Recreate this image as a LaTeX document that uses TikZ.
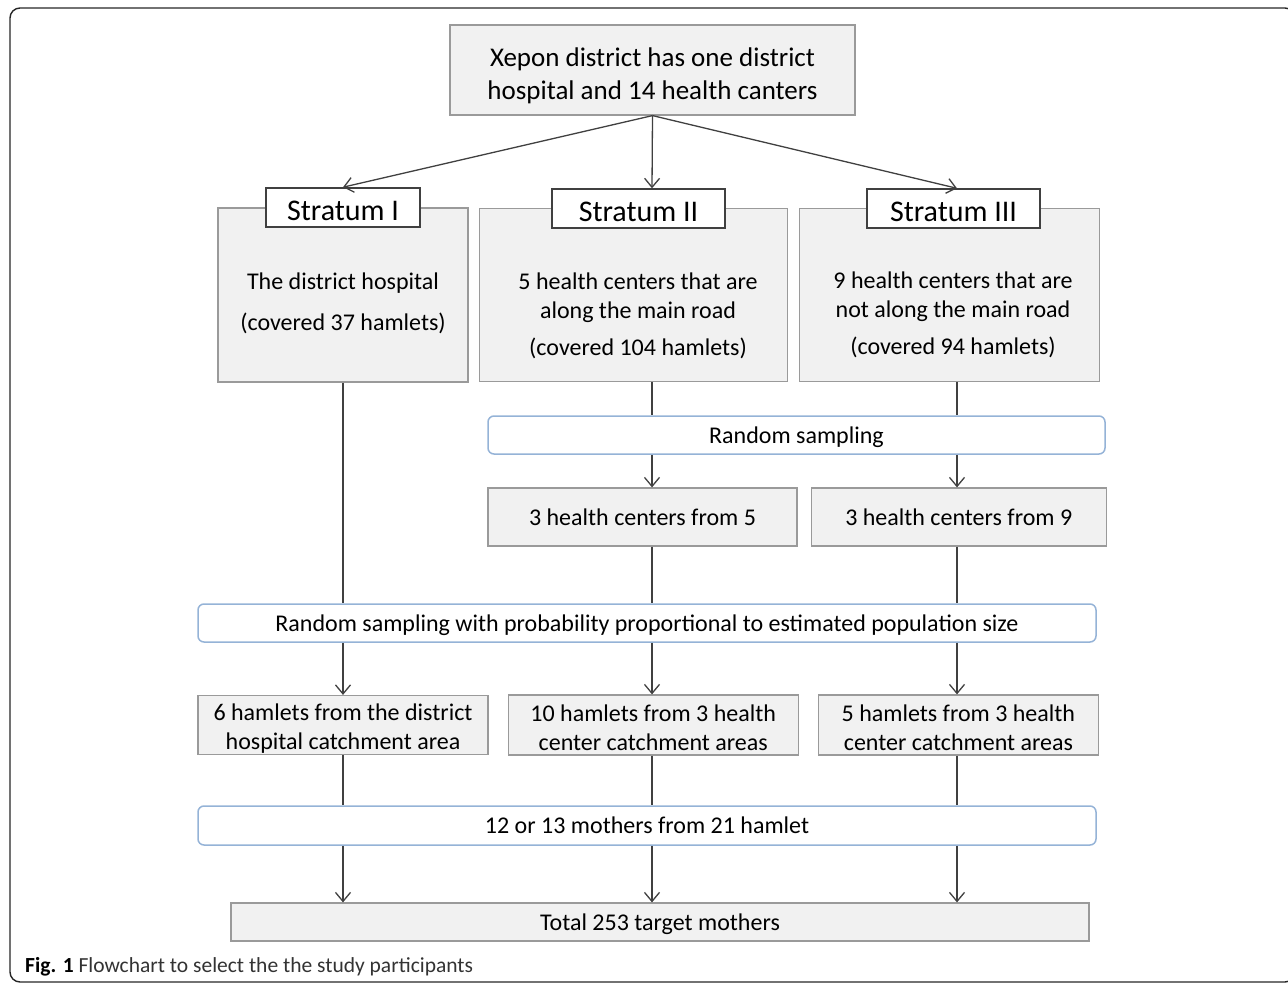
\documentclass[tikz,border=0pt]{standalone}
\usepackage{fontspec}
\setmainfont{Carlito}
\usetikzlibrary{positioning, arrows.meta}
\definecolor{boxfill}{HTML}{F1F1F1}
\definecolor{boxline}{HTML}{9A9A9A}
\definecolor{tabline}{HTML}{404040}
\definecolor{sampline}{HTML}{95B3D7}
\definecolor{arrowcol}{HTML}{404040}

\begin{document}
\begin{tikzpicture}[
x=1pt, y=-1pt,
greybox/.style={rectangle,
  draw=boxline,
  fill=boxfill,
  line width=1.2pt,
  inner sep=0pt,
  align=center,
  font=\fontsize{24}{29}\selectfont
},
tabbox/.style={rectangle,
  draw=tabline,
  fill=white,
  line width=1.4pt,
  inner sep=0pt,
  minimum height=39pt,
  text height=26pt,
  text depth=0pt,
  font=\fontsize{30}{36}\selectfont
},
sampbox/.style={rectangle,
  rounded corners=6pt,
  draw=sampline,
  fill=white,
  line width=1.5pt,
  inner sep=0pt,
  minimum height=38pt,
  text depth=0pt,
  font=\fontsize{24}{29}\selectfont
},
bodytext/.style={align=center,
  inner sep=0pt,
  font=\fontsize{24}{29}\selectfont
},
link/.style={draw=arrowcol, line width=1.3pt},
>={Straight Barb[length=9pt, width=15pt]}
]

\useasboundingbox (0,0) rectangle (1288,985);
\draw[line width=1.4pt, rounded corners=10pt, black!85] (10,8) rectangle (1295,982);

\coordinate (colA) at (343,0);
\coordinate (colB) at (652,0);
\coordinate (colC) at (957,0);

\node[greybox, minimum width=405pt, minimum height=90pt, font=\fontsize{27}{33}\selectfont] (top) at (652.5,70)
    {\rule{0pt}{30pt}Xepon district has one district\\hospital and 14 health canters};

\node[greybox, minimum width=250pt, minimum height=174pt] (s1) at (343,295) {};
\node[greybox, minimum width=308pt, minimum height=173pt, right=10pt of s1] (s2) {};
\node[greybox, minimum width=300pt, minimum height=173pt, right=11pt of s2] (s3) {};

\node[bodytext] (s1text) at (343,303)
    {The district hospital\\[12pt](covered 37 hamlets)};
\node[bodytext] (s2text) at (638,316)
    {5 health centers that are\\along the main road\\[8pt](covered 104 hamlets)};
\node[bodytext] (s3text) at (953,315)
    {9 health centers that are\\not along the main road\\[8pt](covered 94 hamlets)};

\node[tabbox, minimum width=154pt] (t1) at (s1.north) {Stratum I};
\node[tabbox, minimum width=173pt] (t2) at (638.5,208.5) {Stratum II};
\node[tabbox, minimum width=173pt] (t3) at (953.5,208.5) {Stratum III};

\node[sampbox, minimum width=617pt] (rs) at (796.5,435)
    {Random sampling};

\node[greybox, minimum width=309pt, minimum height=58pt] (hc5) at (642.5,517)
    {3 health centers from 5};
\node[greybox, minimum width=295pt, minimum height=58pt, right=13pt of hc5] (hc9)
    {3 health centers from 9};

\node[sampbox, minimum width=898pt] (pps) at (647,623)
    {Random sampling with probability proportional to estimated population size};

\node[greybox, minimum width=290pt, minimum height=59pt] (h1) at (343,725)
    {\rule{0pt}{24pt}6 hamlets from the district\\hospital catchment area};
\node[greybox, minimum width=290pt, minimum height=60pt, right=19pt of h1] (h2)
    {\rule{0pt}{23pt}10 hamlets from 3 health\\center catchment areas};
\node[greybox, minimum width=280pt, minimum height=60pt, right=19pt of h2] (h3)
    {\rule{0pt}{23pt}5 hamlets from 3 health\\center catchment areas};

\node[sampbox, minimum width=898pt, minimum height=39pt] (mom) at (647,825.5)
    {12 or 13 mothers from 21 hamlet};

\node[greybox, minimum width=858pt, minimum height=38pt, text depth=0pt] (total) at (660,922)
    {Total 253 target mothers};

\node[anchor=west, inner sep=0pt, text=black!80, font=\fontsize{21.5}{26}\selectfont] (cap) at (25,967)
    {\textcolor{black}{\textbf{Fig. 1}} Flowchart to select the the study participants};

\draw[link,->] (top.south) -- (t1.north);
\draw[link,->] (top.south) -- (t2.north -| colB);
\draw[link,->] (top.south) -- (t3.north -| colC);

\draw[link] (s1.south) -- (pps.north -| colA);
\draw[link] (s2.south -| colB) -- (rs.north -| colB);
\draw[link] (s3.south -| colC) -- (rs.north -| colC);

\draw[link,->] (rs.south -| colB) -- (hc5.north -| colB);
\draw[link,->] (rs.south -| colC) -- (hc9.north -| colC);

\draw[link] (hc5.south -| colB) -- (pps.north -| colB);
\draw[link] (hc9.south -| colC) -- (pps.north -| colC);

\draw[link,->] (pps.south -| colA) -- (h1.north);
\draw[link,->] (pps.south -| colB) -- (h2.north -| colB);
\draw[link,->] (pps.south -| colC) -- (h3.north -| colC);

\draw[link] (h1.south) -- (mom.north -| colA);
\draw[link] (h2.south -| colB) -- (mom.north -| colB);
\draw[link] (h3.south -| colC) -- (mom.north -| colC);

\draw[link,->] (mom.south -| colA) -- (total.north -| colA);
\draw[link,->] (mom.south -| colB) -- (total.north -| colB);
\draw[link,->] (mom.south -| colC) -- (total.north -| colC);
\end{tikzpicture}
\end{document}
